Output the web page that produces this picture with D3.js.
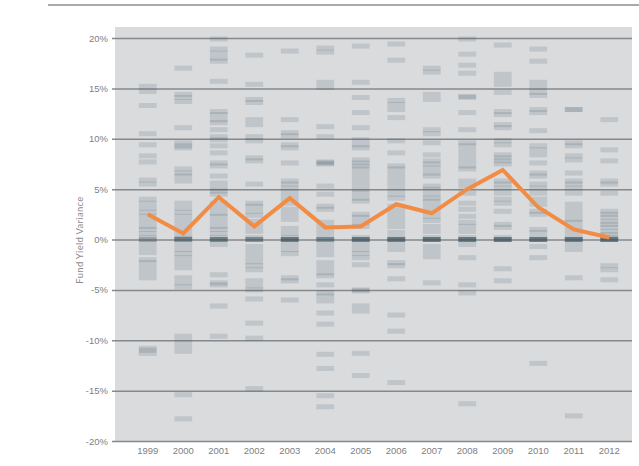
<!DOCTYPE html>
<html>
<head>
<meta charset="utf-8">
<script src="https://cdn.jsdelivr.net/npm/d3@7"></script>
<style>
  body { margin: 0; background: #fff; }
  svg { display: block; font-family: Lato, "Open Sans", sans-serif; }
</style>
</head>
<body>
<div id="chart"></div>
<script>
// years on the x axis
var years = ["1999","2000","2001","2002","2003","2004","2005","2006","2007","2008","2009","2010","2011","2012"];
var yTicks = [-20, -15, -10, -5, 0, 5, 10, 15, 20];

// average yield variance per year (orange line)
var avgVariance = [2.5, 0.6, 4.2, 1.3, 4.1, 1.2, 1.3, 3.5, 2.6, 5.0, 6.9, 3.2, 1.0, 0.2];

// individual fund yield variances, one array per year (%)
var f1999 = [15.2, 14.7, 13.3, 10.5, 9.4, 8.3, 7.7, 5.9, 5.5, 4.0, 3.6, 3.1, 2.7, 2.3, 1.8, 1.3, 1.0, 0.6, 0.2, 0, 0, -0.3, -0.8, -1.3, -2.0, -2.3, -2.8, -3.3, -3.8, -10.8, -11.0, -11.3];
var f2000 = [17.0, 14.4, 14.1, 13.7, 11.1, 9.6, 9.3, 9.1, 7.0, 6.6, 6.3, 5.8, 3.6, 3.1, 2.7, 2.3, 1.8, 1.3, 0.8, 0.3, 0.1, 0, 0, 0, 0, -0.5, -1.0, -1.4, -1.8, -2.3, -2.8, -3.8, -4.3, -4.7, -9.6, -10.1, -10.6, -11.1, -15.4, -17.8];
var f2001 = [19.9, 18.9, 18.5, 18.0, 17.7, 15.7, 12.7, 12.4, 11.9, 11.6, 10.9, 10.2, 9.9, 9.3, 8.6, 7.6, 7.3, 6.3, 5.6, 5.1, 4.8, 4.5, 3.6, 3.1, 2.6, 2.3, 1.8, 1.3, 1.0, 0.6, 0.2, 0, 0, 0, 0, 0, -0.5, -3.5, -4.3, -4.5, -6.6, -9.6];
var f2002 = [18.3, 15.4, 13.9, 13.6, 11.9, 11.4, 10.2, 9.8, 8.1, 7.8, 5.5, 3.6, 3.3, 2.8, 2.4, 1.8, 1.3, 0.8, 0.2, 0, 0, 0, 0, -0.7, -1.2, -1.7, -2.2, -2.6, -3.0, -4.1, -4.6, -5.0, -5.9, -8.3, -9.8, -14.8];
var f2003 = [18.7, 11.9, 10.6, 10.3, 9.4, 9.1, 7.6, 5.8, 5.5, 5.1, 4.6, 4.1, 3.6, 3.0, 2.5, 2.0, 1.1, 0.6, 0.2, 0, 0, 0, 0, 0, 0, -0.5, -1.0, -1.4, -3.8, -4.1, -6.0];
var f2004 = [19.0, 18.6, 15.6, 15.1, 11.2, 10.2, 7.7, 7.5, 7.6, 5.3, 4.5, 3.3, 3.0, 1.7, 1.2, 0.7, 0.2, 0, 0, 0, 0, -0.5, -1.0, -1.5, -2.3, -2.8, -3.3, -3.6, -4.5, -5.3, -5.6, -6.1, -7.3, -8.4, -11.4, -12.8, -15.5, -16.6];
var f2005 = [19.2, 15.6, 14.1, 12.6, 11.1, 9.9, 9.4, 9.1, 7.9, 7.6, 7.3, 7.0, 6.5, 6.0, 5.5, 5.0, 4.6, 4.1, 3.8, 2.5, 2.2, 1.7, 1.3, 0.2, 0, 0, 0, 0, 0, 0, -0.5, -1.0, -1.4, -1.8, -2.5, -5.0, -5.1, -6.6, -7.1, -11.3, -13.5];
var f2006 = [19.4, 17.8, 13.8, 13.4, 12.9, 12.1, 9.8, 8.6, 7.3, 7.0, 6.5, 6.0, 5.5, 5.0, 4.5, 4.1, 3.3, 2.8, 2.3, 1.8, 1.3, 0.7, 0.2, 0, 0, 0, 0, 0, 0, -0.5, -1.0, -2.3, -2.6, -3.9, -7.5, -9.1, -14.2];
var f2007 = [17.0, 16.6, 14.4, 13.9, 10.9, 10.5, 9.6, 8.4, 7.8, 7.5, 7.1, 6.6, 6.3, 5.3, 5.0, 4.5, 4.1, 3.8, 3.3, 2.8, 2.3, 1.9, 1.3, 0.8, 0.2, 0, 0, 0, 0, 0, 0, -0.7, -1.2, -1.7, -4.3];
var f2008 = [19.9, 18.4, 17.3, 16.5, 14.2, 14.1, 12.6, 10.9, 9.6, 9.3, 8.8, 8.3, 7.8, 7.3, 7.0, 5.8, 5.3, 4.6, 3.6, 3.0, 2.3, 1.7, 1.3, 0.8, 0.2, 0, 0, 0, 0, 0, 0, -0.5, -1.8, -4.5, -5.3, -16.3];
var f2009 = [19.3, 16.4, 15.9, 15.4, 14.6, 12.7, 12.4, 11.4, 11.1, 9.8, 9.4, 8.4, 8.1, 7.8, 7.5, 5.8, 5.5, 5.1, 4.6, 4.0, 3.6, 2.8, 1.5, 1.2, 0.2, 0, 0, 0, 0, 0, 0, -2.9, -4.1];
var f2010 = [18.9, 17.7, 15.6, 15.1, 14.6, 14.3, 12.9, 12.6, 10.8, 9.3, 8.9, 8.4, 7.6, 6.6, 6.3, 5.5, 5.1, 4.6, 4.0, 3.5, 2.8, 2.5, 1.0, 0.7, 0.2, 0, 0, 0, 0, 0, 0, -0.7, -1.8, -12.3];
var f2011 = [12.9, 12.9, 9.6, 9.3, 8.3, 7.9, 6.6, 5.8, 5.5, 5.1, 4.6, 3.5, 3.0, 2.5, 2.0, 1.7, 1.2, 0.7, 0.2, 0, 0, 0, 0, 0, 0, -0.5, -1.0, -3.8, -17.5];
var f2012 = [11.9, 8.9, 7.8, 5.8, 5.5, 4.6, 2.8, 2.5, 2.2, 1.8, 1.5, 1.2, 0.8, 0.5, 0.2, 0, 0, 0, 0, 0, 0, -2.6, -3.0, -4.0];
var fundValues = [f1999, f2000, f2001, f2002, f2003, f2004, f2005, f2006, f2007, f2008, f2009, f2010, f2011, f2012];

var width = 639, height = 466;
var plot = {left: 115, right: 632, top: 27, bottom: 441};

var svg = d3.select("#chart").append("svg")
    .attr("width", width)
    .attr("height", height);

// thin rule across the top
svg.append("line")
    .attr("x1", 48).attr("x2", width)
    .attr("y1", 5).attr("y2", 5)
    .attr("stroke", "#8c8c8c")
    .attr("stroke-width", 1.5);

var xScale = d3.scaleBand()
    .domain(years)
    .range([130, 627])
    .paddingInner(0.5)
    .paddingOuter(0.25);

var yScale = d3.scaleLinear()
    .domain([-20, 20])
    .range([441, 38]);

// plot background
svg.append("rect")
    .attr("x", plot.left)
    .attr("y", plot.top)
    .attr("width", plot.right - plot.left)
    .attr("height", plot.bottom - plot.top)
    .attr("fill", "#d9dbdd");

// y axis with gridlines
var yAxis = d3.axisLeft(yScale)
    .tickValues(yTicks)
    .tickSize(-(plot.right - 112))
    .tickPadding(4)
    .tickFormat(function(d) { return d + "%"; });
var yAxisGroup = svg.append("g")
    .attr("transform", "translate(112,0)")
    .call(yAxis);
yAxisGroup.select(".domain").remove();
yAxisGroup.selectAll(".tick line")
    .attr("stroke", "#86888a")
    .attr("stroke-width", 1.5);
yAxisGroup.selectAll(".tick text")
    .attr("fill", "#808080")
    .attr("font-size", 9.5);

// fund dashes
var dashGroup = svg.append("g");
years.forEach(function(year, i) {
    dashGroup.selectAll(null)
        .data(fundValues[i])
        .enter()
        .append("rect")
        .attr("x", xScale(year))
        .attr("width", xScale.bandwidth())
        .attr("y", function(d) { return yScale(d) - 2.5; })
        .attr("height", 5)
        .attr("fill", "#2c4759")
        .attr("fill-opacity", 0.15);
});

// x axis labels
var xAxis = d3.axisBottom(xScale).tickSize(0).tickPadding(6);
var xAxisGroup = svg.append("g")
    .attr("transform", "translate(0," + plot.bottom + ")")
    .call(xAxis);
xAxisGroup.select(".domain").remove();
xAxisGroup.selectAll(".tick text")
    .attr("fill", "#808080")
    .attr("font-size", 9.5);

// average line
var line = d3.line()
    .x(function(d, i) { return xScale(years[i]) + xScale.bandwidth() / 2; })
    .y(function(d) { return yScale(d); })
    .curve(d3.curveLinear);
svg.append("path")
    .attr("d", line(avgVariance))
    .attr("fill", "none")
    .attr("stroke", "#f28c45")
    .attr("stroke-width", 4)
    .attr("stroke-linejoin", "miter");

// y axis title
svg.append("text")
    .attr("transform", "translate(83,240) rotate(-90)")
    .attr("text-anchor", "middle")
    .attr("fill", "#8a8a8a")
    .attr("font-size", 9.5)
    .attr("letter-spacing", 0.3)
    .text("Fund Yield Variance");
</script>
</body>
</html>
